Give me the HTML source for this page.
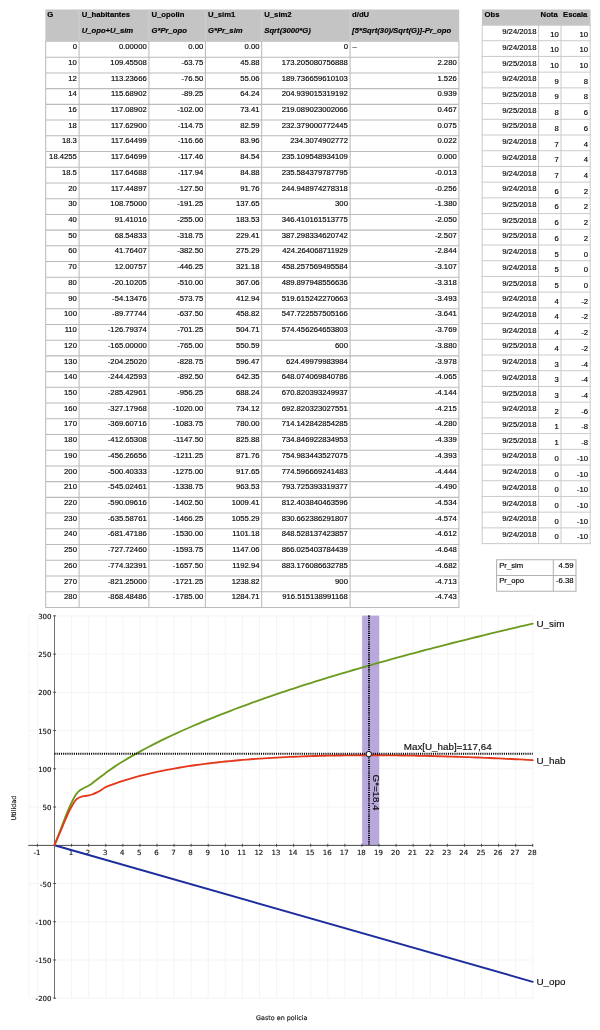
<!DOCTYPE html>
<html><head><meta charset="utf-8"><title>Utilidad</title>
<style>
html,body{margin:0;padding:0;background:#fff;}
body{width:600px;height:1030px;position:relative;overflow:hidden;font-family:"Liberation Sans",sans-serif;font-size:7.7px;color:#000;-webkit-text-stroke:0.15px #000;}
.c{position:absolute;white-space:nowrap;line-height:1;}
.r{text-align:right;}
.b{font-weight:bold;}
.bi{font-weight:bold;font-style:italic;}
.hl{position:absolute;background:#c0c0c0;height:1.2px;}
.vl{position:absolute;background:#c0c0c0;width:1.2px;}
.hd{position:absolute;background:#c4c4c4;}
svg{position:absolute;left:0;top:0;}
svg text{font-family:"Liberation Sans",sans-serif;stroke:#000;stroke-width:0.15px;}
.dv{font-family:"DejaVu Sans",sans-serif;}
</style></head><body>

<svg width="600" height="1030" viewBox="0 0 600 1030"><rect x="45.40" y="9.50" width="413.80" height="31.40" fill="#c4c4c4"/></svg>
<svg width="600" height="1030" viewBox="0 0 600 1030"><path d="M45.20 41.20H459.40M45.20 57.20H459.40M45.20 72.92H459.40M45.20 88.64H459.40M45.20 104.36H459.40M45.20 120.08H459.40M45.20 135.80H459.40M45.20 151.52H459.40M45.20 167.24H459.40M45.20 182.96H459.40M45.20 198.68H459.40M45.20 214.40H459.40M45.20 230.12H459.40M45.20 245.84H459.40M45.20 261.56H459.40M45.20 277.28H459.40M45.20 293.00H459.40M45.20 308.72H459.40M45.20 324.44H459.40M45.20 340.16H459.40M45.20 355.88H459.40M45.20 371.60H459.40M45.20 387.32H459.40M45.20 403.04H459.40M45.20 418.76H459.40M45.20 434.48H459.40M45.20 450.20H459.40M45.20 465.92H459.40M45.20 481.64H459.40M45.20 497.36H459.40M45.20 513.08H459.40M45.20 528.80H459.40M45.20 544.52H459.40M45.20 560.24H459.40M45.20 575.96H459.40M45.20 591.68H459.40M45.20 607.40H459.40M45.70 40.90V607.40M79.10 40.90V607.40M148.90 40.90V607.40M205.40 40.90V607.40M261.70 40.90V607.40M350.10 40.90V607.40M458.90 40.90V607.40" stroke="#bbbbbb" stroke-width="1.05" fill="none"/>
<path d="M79.10 9.50V40.90M148.90 9.50V40.90M205.40 9.50V40.90M261.70 9.50V40.90M350.10 9.50V40.90" stroke="#cecece" stroke-width="1.1" fill="none"/>
</svg>
<div class="c b" style="left:47.30px;top:11.18px">G</div>
<div class="c b" style="left:81.70px;top:11.18px">U_habitantes</div>
<div class="c b" style="left:151.50px;top:11.18px">U_opolin</div>
<div class="c b" style="left:208.00px;top:11.18px">U_sim1</div>
<div class="c b" style="left:264.30px;top:11.18px">U_sim2</div>
<div class="c b" style="left:352.10px;top:11.18px">d/dU</div>
<div class="c bi" style="left:81.70px;top:26.92px">U_opo+U_sim</div>
<div class="c bi" style="left:151.50px;top:26.92px">G*Pr_opo</div>
<div class="c bi" style="left:208.00px;top:26.92px">G*Pr_sim</div>
<div class="c bi" style="left:264.30px;top:26.92px">Sqrt(3000*G)</div>
<div class="c bi" style="left:352.10px;top:26.92px">[5*Sqrt(30)/Sqrt(G)]-Pr_opo</div>
<div class="c r" style="right:523.10px;top:43.11px">0</div>
<div class="c r" style="right:453.30px;top:43.11px">0.00000</div>
<div class="c r" style="right:396.80px;top:43.11px">0.00</div>
<div class="c r" style="right:340.50px;top:43.11px">0.00</div>
<div class="c r" style="right:252.10px;top:43.11px">0</div>
<div class="c" style="left:352.50px;top:43.11px">–</div>
<div class="c r" style="right:523.10px;top:58.83px">10</div>
<div class="c r" style="right:453.30px;top:58.83px">109.45508</div>
<div class="c r" style="right:396.80px;top:58.83px">-63.75</div>
<div class="c r" style="right:340.50px;top:58.83px">45.88</div>
<div class="c r" style="right:252.10px;top:58.83px">173.205080756888</div>
<div class="c r" style="right:143.30px;top:58.83px">2.280</div>
<div class="c r" style="right:523.10px;top:74.55px">12</div>
<div class="c r" style="right:453.30px;top:74.55px">113.23666</div>
<div class="c r" style="right:396.80px;top:74.55px">-76.50</div>
<div class="c r" style="right:340.50px;top:74.55px">55.06</div>
<div class="c r" style="right:252.10px;top:74.55px">189.736659610103</div>
<div class="c r" style="right:143.30px;top:74.55px">1.526</div>
<div class="c r" style="right:523.10px;top:90.27px">14</div>
<div class="c r" style="right:453.30px;top:90.27px">115.68902</div>
<div class="c r" style="right:396.80px;top:90.27px">-89.25</div>
<div class="c r" style="right:340.50px;top:90.27px">64.24</div>
<div class="c r" style="right:252.10px;top:90.27px">204.939015319192</div>
<div class="c r" style="right:143.30px;top:90.27px">0.939</div>
<div class="c r" style="right:523.10px;top:105.99px">16</div>
<div class="c r" style="right:453.30px;top:105.99px">117.08902</div>
<div class="c r" style="right:396.80px;top:105.99px">-102.00</div>
<div class="c r" style="right:340.50px;top:105.99px">73.41</div>
<div class="c r" style="right:252.10px;top:105.99px">219.089023002066</div>
<div class="c r" style="right:143.30px;top:105.99px">0.467</div>
<div class="c r" style="right:523.10px;top:121.71px">18</div>
<div class="c r" style="right:453.30px;top:121.71px">117.62900</div>
<div class="c r" style="right:396.80px;top:121.71px">-114.75</div>
<div class="c r" style="right:340.50px;top:121.71px">82.59</div>
<div class="c r" style="right:252.10px;top:121.71px">232.379000772445</div>
<div class="c r" style="right:143.30px;top:121.71px">0.075</div>
<div class="c r" style="right:523.10px;top:137.43px">18.3</div>
<div class="c r" style="right:453.30px;top:137.43px">117.64499</div>
<div class="c r" style="right:396.80px;top:137.43px">-116.66</div>
<div class="c r" style="right:340.50px;top:137.43px">83.96</div>
<div class="c r" style="right:252.10px;top:137.43px">234.3074902772</div>
<div class="c r" style="right:143.30px;top:137.43px">0.022</div>
<div class="c r" style="right:523.10px;top:153.15px">18.4255</div>
<div class="c r" style="right:453.30px;top:153.15px">117.64699</div>
<div class="c r" style="right:396.80px;top:153.15px">-117.46</div>
<div class="c r" style="right:340.50px;top:153.15px">84.54</div>
<div class="c r" style="right:252.10px;top:153.15px">235.109548934109</div>
<div class="c r" style="right:143.30px;top:153.15px">0.000</div>
<div class="c r" style="right:523.10px;top:168.87px">18.5</div>
<div class="c r" style="right:453.30px;top:168.87px">117.64688</div>
<div class="c r" style="right:396.80px;top:168.87px">-117.94</div>
<div class="c r" style="right:340.50px;top:168.87px">84.88</div>
<div class="c r" style="right:252.10px;top:168.87px">235.584379787795</div>
<div class="c r" style="right:143.30px;top:168.87px">-0.013</div>
<div class="c r" style="right:523.10px;top:184.59px">20</div>
<div class="c r" style="right:453.30px;top:184.59px">117.44897</div>
<div class="c r" style="right:396.80px;top:184.59px">-127.50</div>
<div class="c r" style="right:340.50px;top:184.59px">91.76</div>
<div class="c r" style="right:252.10px;top:184.59px">244.948974278318</div>
<div class="c r" style="right:143.30px;top:184.59px">-0.256</div>
<div class="c r" style="right:523.10px;top:200.31px">30</div>
<div class="c r" style="right:453.30px;top:200.31px">108.75000</div>
<div class="c r" style="right:396.80px;top:200.31px">-191.25</div>
<div class="c r" style="right:340.50px;top:200.31px">137.65</div>
<div class="c r" style="right:252.10px;top:200.31px">300</div>
<div class="c r" style="right:143.30px;top:200.31px">-1.380</div>
<div class="c r" style="right:523.10px;top:216.03px">40</div>
<div class="c r" style="right:453.30px;top:216.03px">91.41016</div>
<div class="c r" style="right:396.80px;top:216.03px">-255.00</div>
<div class="c r" style="right:340.50px;top:216.03px">183.53</div>
<div class="c r" style="right:252.10px;top:216.03px">346.410161513775</div>
<div class="c r" style="right:143.30px;top:216.03px">-2.050</div>
<div class="c r" style="right:523.10px;top:231.75px">50</div>
<div class="c r" style="right:453.30px;top:231.75px">68.54833</div>
<div class="c r" style="right:396.80px;top:231.75px">-318.75</div>
<div class="c r" style="right:340.50px;top:231.75px">229.41</div>
<div class="c r" style="right:252.10px;top:231.75px">387.298334620742</div>
<div class="c r" style="right:143.30px;top:231.75px">-2.507</div>
<div class="c r" style="right:523.10px;top:247.47px">60</div>
<div class="c r" style="right:453.30px;top:247.47px">41.76407</div>
<div class="c r" style="right:396.80px;top:247.47px">-382.50</div>
<div class="c r" style="right:340.50px;top:247.47px">275.29</div>
<div class="c r" style="right:252.10px;top:247.47px">424.264068711929</div>
<div class="c r" style="right:143.30px;top:247.47px">-2.844</div>
<div class="c r" style="right:523.10px;top:263.19px">70</div>
<div class="c r" style="right:453.30px;top:263.19px">12.00757</div>
<div class="c r" style="right:396.80px;top:263.19px">-446.25</div>
<div class="c r" style="right:340.50px;top:263.19px">321.18</div>
<div class="c r" style="right:252.10px;top:263.19px">458.257569495584</div>
<div class="c r" style="right:143.30px;top:263.19px">-3.107</div>
<div class="c r" style="right:523.10px;top:278.91px">80</div>
<div class="c r" style="right:453.30px;top:278.91px">-20.10205</div>
<div class="c r" style="right:396.80px;top:278.91px">-510.00</div>
<div class="c r" style="right:340.50px;top:278.91px">367.06</div>
<div class="c r" style="right:252.10px;top:278.91px">489.897948556636</div>
<div class="c r" style="right:143.30px;top:278.91px">-3.318</div>
<div class="c r" style="right:523.10px;top:294.63px">90</div>
<div class="c r" style="right:453.30px;top:294.63px">-54.13476</div>
<div class="c r" style="right:396.80px;top:294.63px">-573.75</div>
<div class="c r" style="right:340.50px;top:294.63px">412.94</div>
<div class="c r" style="right:252.10px;top:294.63px">519.615242270663</div>
<div class="c r" style="right:143.30px;top:294.63px">-3.493</div>
<div class="c r" style="right:523.10px;top:310.35px">100</div>
<div class="c r" style="right:453.30px;top:310.35px">-89.77744</div>
<div class="c r" style="right:396.80px;top:310.35px">-637.50</div>
<div class="c r" style="right:340.50px;top:310.35px">458.82</div>
<div class="c r" style="right:252.10px;top:310.35px">547.722557505166</div>
<div class="c r" style="right:143.30px;top:310.35px">-3.641</div>
<div class="c r" style="right:523.10px;top:326.07px">110</div>
<div class="c r" style="right:453.30px;top:326.07px">-126.79374</div>
<div class="c r" style="right:396.80px;top:326.07px">-701.25</div>
<div class="c r" style="right:340.50px;top:326.07px">504.71</div>
<div class="c r" style="right:252.10px;top:326.07px">574.456264653803</div>
<div class="c r" style="right:143.30px;top:326.07px">-3.769</div>
<div class="c r" style="right:523.10px;top:341.79px">120</div>
<div class="c r" style="right:453.30px;top:341.79px">-165.00000</div>
<div class="c r" style="right:396.80px;top:341.79px">-765.00</div>
<div class="c r" style="right:340.50px;top:341.79px">550.59</div>
<div class="c r" style="right:252.10px;top:341.79px">600</div>
<div class="c r" style="right:143.30px;top:341.79px">-3.880</div>
<div class="c r" style="right:523.10px;top:357.51px">130</div>
<div class="c r" style="right:453.30px;top:357.51px">-204.25020</div>
<div class="c r" style="right:396.80px;top:357.51px">-828.75</div>
<div class="c r" style="right:340.50px;top:357.51px">596.47</div>
<div class="c r" style="right:252.10px;top:357.51px">624.49979983984</div>
<div class="c r" style="right:143.30px;top:357.51px">-3.978</div>
<div class="c r" style="right:523.10px;top:373.23px">140</div>
<div class="c r" style="right:453.30px;top:373.23px">-244.42593</div>
<div class="c r" style="right:396.80px;top:373.23px">-892.50</div>
<div class="c r" style="right:340.50px;top:373.23px">642.35</div>
<div class="c r" style="right:252.10px;top:373.23px">648.074069840786</div>
<div class="c r" style="right:143.30px;top:373.23px">-4.065</div>
<div class="c r" style="right:523.10px;top:388.95px">150</div>
<div class="c r" style="right:453.30px;top:388.95px">-285.42961</div>
<div class="c r" style="right:396.80px;top:388.95px">-956.25</div>
<div class="c r" style="right:340.50px;top:388.95px">688.24</div>
<div class="c r" style="right:252.10px;top:388.95px">670.820393249937</div>
<div class="c r" style="right:143.30px;top:388.95px">-4.144</div>
<div class="c r" style="right:523.10px;top:404.67px">160</div>
<div class="c r" style="right:453.30px;top:404.67px">-327.17968</div>
<div class="c r" style="right:396.80px;top:404.67px">-1020.00</div>
<div class="c r" style="right:340.50px;top:404.67px">734.12</div>
<div class="c r" style="right:252.10px;top:404.67px">692.820323027551</div>
<div class="c r" style="right:143.30px;top:404.67px">-4.215</div>
<div class="c r" style="right:523.10px;top:420.39px">170</div>
<div class="c r" style="right:453.30px;top:420.39px">-369.60716</div>
<div class="c r" style="right:396.80px;top:420.39px">-1083.75</div>
<div class="c r" style="right:340.50px;top:420.39px">780.00</div>
<div class="c r" style="right:252.10px;top:420.39px">714.142842854285</div>
<div class="c r" style="right:143.30px;top:420.39px">-4.280</div>
<div class="c r" style="right:523.10px;top:436.11px">180</div>
<div class="c r" style="right:453.30px;top:436.11px">-412.65308</div>
<div class="c r" style="right:396.80px;top:436.11px">-1147.50</div>
<div class="c r" style="right:340.50px;top:436.11px">825.88</div>
<div class="c r" style="right:252.10px;top:436.11px">734.846922834953</div>
<div class="c r" style="right:143.30px;top:436.11px">-4.339</div>
<div class="c r" style="right:523.10px;top:451.83px">190</div>
<div class="c r" style="right:453.30px;top:451.83px">-456.26656</div>
<div class="c r" style="right:396.80px;top:451.83px">-1211.25</div>
<div class="c r" style="right:340.50px;top:451.83px">871.76</div>
<div class="c r" style="right:252.10px;top:451.83px">754.983443527075</div>
<div class="c r" style="right:143.30px;top:451.83px">-4.393</div>
<div class="c r" style="right:523.10px;top:467.55px">200</div>
<div class="c r" style="right:453.30px;top:467.55px">-500.40333</div>
<div class="c r" style="right:396.80px;top:467.55px">-1275.00</div>
<div class="c r" style="right:340.50px;top:467.55px">917.65</div>
<div class="c r" style="right:252.10px;top:467.55px">774.596669241483</div>
<div class="c r" style="right:143.30px;top:467.55px">-4.444</div>
<div class="c r" style="right:523.10px;top:483.27px">210</div>
<div class="c r" style="right:453.30px;top:483.27px">-545.02461</div>
<div class="c r" style="right:396.80px;top:483.27px">-1338.75</div>
<div class="c r" style="right:340.50px;top:483.27px">963.53</div>
<div class="c r" style="right:252.10px;top:483.27px">793.725393319377</div>
<div class="c r" style="right:143.30px;top:483.27px">-4.490</div>
<div class="c r" style="right:523.10px;top:498.99px">220</div>
<div class="c r" style="right:453.30px;top:498.99px">-590.09616</div>
<div class="c r" style="right:396.80px;top:498.99px">-1402.50</div>
<div class="c r" style="right:340.50px;top:498.99px">1009.41</div>
<div class="c r" style="right:252.10px;top:498.99px">812.403840463596</div>
<div class="c r" style="right:143.30px;top:498.99px">-4.534</div>
<div class="c r" style="right:523.10px;top:514.71px">230</div>
<div class="c r" style="right:453.30px;top:514.71px">-635.58761</div>
<div class="c r" style="right:396.80px;top:514.71px">-1466.25</div>
<div class="c r" style="right:340.50px;top:514.71px">1055.29</div>
<div class="c r" style="right:252.10px;top:514.71px">830.662386291807</div>
<div class="c r" style="right:143.30px;top:514.71px">-4.574</div>
<div class="c r" style="right:523.10px;top:530.43px">240</div>
<div class="c r" style="right:453.30px;top:530.43px">-681.47186</div>
<div class="c r" style="right:396.80px;top:530.43px">-1530.00</div>
<div class="c r" style="right:340.50px;top:530.43px">1101.18</div>
<div class="c r" style="right:252.10px;top:530.43px">848.528137423857</div>
<div class="c r" style="right:143.30px;top:530.43px">-4.612</div>
<div class="c r" style="right:523.10px;top:546.15px">250</div>
<div class="c r" style="right:453.30px;top:546.15px">-727.72460</div>
<div class="c r" style="right:396.80px;top:546.15px">-1593.75</div>
<div class="c r" style="right:340.50px;top:546.15px">1147.06</div>
<div class="c r" style="right:252.10px;top:546.15px">866.025403784439</div>
<div class="c r" style="right:143.30px;top:546.15px">-4.648</div>
<div class="c r" style="right:523.10px;top:561.87px">260</div>
<div class="c r" style="right:453.30px;top:561.87px">-774.32391</div>
<div class="c r" style="right:396.80px;top:561.87px">-1657.50</div>
<div class="c r" style="right:340.50px;top:561.87px">1192.94</div>
<div class="c r" style="right:252.10px;top:561.87px">883.176086632785</div>
<div class="c r" style="right:143.30px;top:561.87px">-4.682</div>
<div class="c r" style="right:523.10px;top:577.59px">270</div>
<div class="c r" style="right:453.30px;top:577.59px">-821.25000</div>
<div class="c r" style="right:396.80px;top:577.59px">-1721.25</div>
<div class="c r" style="right:340.50px;top:577.59px">1238.82</div>
<div class="c r" style="right:252.10px;top:577.59px">900</div>
<div class="c r" style="right:143.30px;top:577.59px">-4.713</div>
<div class="c r" style="right:523.10px;top:593.31px">280</div>
<div class="c r" style="right:453.30px;top:593.31px">-868.48486</div>
<div class="c r" style="right:396.80px;top:593.31px">-1785.00</div>
<div class="c r" style="right:340.50px;top:593.31px">1284.71</div>
<div class="c r" style="right:252.10px;top:593.31px">916.515138991168</div>
<div class="c r" style="right:143.30px;top:593.31px">-4.743</div>
<svg width="600" height="1030" viewBox="0 0 600 1030"><rect x="481.90" y="9.50" width="108.60" height="15.50" fill="#c4c4c4"/></svg>
<svg width="600" height="1030" viewBox="0 0 600 1030"><path d="M481.70 25.30H590.70M481.70 40.72H590.70M481.70 56.43H590.70M481.70 72.14H590.70M481.70 87.86H590.70M481.70 103.58H590.70M481.70 119.29H590.70M481.70 135.00H590.70M481.70 150.72H590.70M481.70 166.44H590.70M481.70 182.15H590.70M481.70 197.87H590.70M481.70 213.58H590.70M481.70 229.29H590.70M481.70 245.01H590.70M481.70 260.73H590.70M481.70 276.44H590.70M481.70 292.15H590.70M481.70 307.87H590.70M481.70 323.58H590.70M481.70 339.30H590.70M481.70 355.01H590.70M481.70 370.73H590.70M481.70 386.44H590.70M481.70 402.16H590.70M481.70 417.88H590.70M481.70 433.59H590.70M481.70 449.31H590.70M481.70 465.02H590.70M481.70 480.74H590.70M481.70 496.45H590.70M481.70 512.16H590.70M481.70 527.88H590.70M481.70 543.60H590.70M482.20 25.00V543.60M538.60 25.00V543.60M561.00 25.00V543.60M590.20 25.00V543.60" stroke="#cbcbcb" stroke-width="1.0" fill="none"/>
</svg>
<div class="c b" style="left:484.60px;top:11.08px">Obs</div>
<div class="c b" style="left:540.60px;top:11.08px">Nota</div>
<div class="c b" style="left:563.00px;top:11.08px">Escala</div>
<div class="c r" style="right:63.60px;top:28.18px">9/24/2018</div>
<div class="c r" style="right:41.20px;top:30.58px">10</div>
<div class="c r" style="right:12.00px;top:30.58px">10</div>
<div class="c r" style="right:63.60px;top:43.89px">9/24/2018</div>
<div class="c r" style="right:41.20px;top:46.29px">10</div>
<div class="c r" style="right:12.00px;top:46.29px">10</div>
<div class="c r" style="right:63.60px;top:59.61px">9/25/2018</div>
<div class="c r" style="right:41.20px;top:62.01px">10</div>
<div class="c r" style="right:12.00px;top:62.01px">10</div>
<div class="c r" style="right:63.60px;top:75.32px">9/24/2018</div>
<div class="c r" style="right:41.20px;top:77.72px">9</div>
<div class="c r" style="right:12.00px;top:77.72px">8</div>
<div class="c r" style="right:63.60px;top:91.04px">9/25/2018</div>
<div class="c r" style="right:41.20px;top:93.44px">9</div>
<div class="c r" style="right:12.00px;top:93.44px">8</div>
<div class="c r" style="right:63.60px;top:106.75px">9/25/2018</div>
<div class="c r" style="right:41.20px;top:109.15px">8</div>
<div class="c r" style="right:12.00px;top:109.15px">6</div>
<div class="c r" style="right:63.60px;top:122.47px">9/25/2018</div>
<div class="c r" style="right:41.20px;top:124.87px">8</div>
<div class="c r" style="right:12.00px;top:124.87px">6</div>
<div class="c r" style="right:63.60px;top:138.18px">9/24/2018</div>
<div class="c r" style="right:41.20px;top:140.58px">7</div>
<div class="c r" style="right:12.00px;top:140.58px">4</div>
<div class="c r" style="right:63.60px;top:153.90px">9/24/2018</div>
<div class="c r" style="right:41.20px;top:156.30px">7</div>
<div class="c r" style="right:12.00px;top:156.30px">4</div>
<div class="c r" style="right:63.60px;top:169.61px">9/24/2018</div>
<div class="c r" style="right:41.20px;top:172.01px">7</div>
<div class="c r" style="right:12.00px;top:172.01px">4</div>
<div class="c r" style="right:63.60px;top:185.33px">9/24/2018</div>
<div class="c r" style="right:41.20px;top:187.73px">6</div>
<div class="c r" style="right:12.00px;top:187.73px">2</div>
<div class="c r" style="right:63.60px;top:201.04px">9/25/2018</div>
<div class="c r" style="right:41.20px;top:203.44px">6</div>
<div class="c r" style="right:12.00px;top:203.44px">2</div>
<div class="c r" style="right:63.60px;top:216.76px">9/25/2018</div>
<div class="c r" style="right:41.20px;top:219.16px">6</div>
<div class="c r" style="right:12.00px;top:219.16px">2</div>
<div class="c r" style="right:63.60px;top:232.47px">9/25/2018</div>
<div class="c r" style="right:41.20px;top:234.87px">6</div>
<div class="c r" style="right:12.00px;top:234.87px">2</div>
<div class="c r" style="right:63.60px;top:248.19px">9/24/2018</div>
<div class="c r" style="right:41.20px;top:250.59px">5</div>
<div class="c r" style="right:12.00px;top:250.59px">0</div>
<div class="c r" style="right:63.60px;top:263.90px">9/24/2018</div>
<div class="c r" style="right:41.20px;top:266.30px">5</div>
<div class="c r" style="right:12.00px;top:266.30px">0</div>
<div class="c r" style="right:63.60px;top:279.62px">9/25/2018</div>
<div class="c r" style="right:41.20px;top:282.02px">5</div>
<div class="c r" style="right:12.00px;top:282.02px">0</div>
<div class="c r" style="right:63.60px;top:295.33px">9/24/2018</div>
<div class="c r" style="right:41.20px;top:297.73px">4</div>
<div class="c r" style="right:12.00px;top:297.73px">-2</div>
<div class="c r" style="right:63.60px;top:311.05px">9/24/2018</div>
<div class="c r" style="right:41.20px;top:313.45px">4</div>
<div class="c r" style="right:12.00px;top:313.45px">-2</div>
<div class="c r" style="right:63.60px;top:326.76px">9/24/2018</div>
<div class="c r" style="right:41.20px;top:329.16px">4</div>
<div class="c r" style="right:12.00px;top:329.16px">-2</div>
<div class="c r" style="right:63.60px;top:342.48px">9/25/2018</div>
<div class="c r" style="right:41.20px;top:344.88px">4</div>
<div class="c r" style="right:12.00px;top:344.88px">-2</div>
<div class="c r" style="right:63.60px;top:358.19px">9/24/2018</div>
<div class="c r" style="right:41.20px;top:360.59px">3</div>
<div class="c r" style="right:12.00px;top:360.59px">-4</div>
<div class="c r" style="right:63.60px;top:373.91px">9/24/2018</div>
<div class="c r" style="right:41.20px;top:376.31px">3</div>
<div class="c r" style="right:12.00px;top:376.31px">-4</div>
<div class="c r" style="right:63.60px;top:389.62px">9/25/2018</div>
<div class="c r" style="right:41.20px;top:392.02px">3</div>
<div class="c r" style="right:12.00px;top:392.02px">-4</div>
<div class="c r" style="right:63.60px;top:405.34px">9/24/2018</div>
<div class="c r" style="right:41.20px;top:407.74px">2</div>
<div class="c r" style="right:12.00px;top:407.74px">-6</div>
<div class="c r" style="right:63.60px;top:421.05px">9/25/2018</div>
<div class="c r" style="right:41.20px;top:423.45px">1</div>
<div class="c r" style="right:12.00px;top:423.45px">-8</div>
<div class="c r" style="right:63.60px;top:436.77px">9/25/2018</div>
<div class="c r" style="right:41.20px;top:439.17px">1</div>
<div class="c r" style="right:12.00px;top:439.17px">-8</div>
<div class="c r" style="right:63.60px;top:452.48px">9/24/2018</div>
<div class="c r" style="right:41.20px;top:454.88px">0</div>
<div class="c r" style="right:12.00px;top:454.88px">-10</div>
<div class="c r" style="right:63.60px;top:468.20px">9/24/2018</div>
<div class="c r" style="right:41.20px;top:470.60px">0</div>
<div class="c r" style="right:12.00px;top:470.60px">-10</div>
<div class="c r" style="right:63.60px;top:483.91px">9/24/2018</div>
<div class="c r" style="right:41.20px;top:486.31px">0</div>
<div class="c r" style="right:12.00px;top:486.31px">-10</div>
<div class="c r" style="right:63.60px;top:499.63px">9/24/2018</div>
<div class="c r" style="right:41.20px;top:502.03px">0</div>
<div class="c r" style="right:12.00px;top:502.03px">-10</div>
<div class="c r" style="right:63.60px;top:515.34px">9/24/2018</div>
<div class="c r" style="right:41.20px;top:517.74px">0</div>
<div class="c r" style="right:12.00px;top:517.74px">-10</div>
<div class="c r" style="right:63.60px;top:531.06px">9/24/2018</div>
<div class="c r" style="right:41.20px;top:533.46px">0</div>
<div class="c r" style="right:12.00px;top:533.46px">-10</div>
<svg width="600" height="1030" viewBox="0 0 600 1030"><path d="M496.10 559.70H576.50M496.10 575.44H576.50M496.10 591.18H576.50M496.60 559.70V591.18M553.30 559.70V591.18M576.00 559.70V591.18" stroke="#b2b2b2" stroke-width="1.05" fill="none"/></svg>
<div class="c" style="left:499.20px;top:561.68px">Pr_sim</div>
<div class="c r" style="right:26.50px;top:561.68px">4.59</div>
<div class="c" style="left:499.20px;top:577.42px">Pr_opo</div>
<div class="c r" style="right:26.50px;top:577.42px">-6.38</div>
<svg width="600" height="1030" viewBox="0 0 600 1030">
<path d="M28.88 615.81V998.21M37.42 615.81V998.21M71.58 615.81V998.21M88.66 615.81V998.21M105.74 615.81V998.21M122.82 615.81V998.21M139.90 615.81V998.21M156.98 615.81V998.21M174.06 615.81V998.21M191.14 615.81V998.21M208.22 615.81V998.21M225.30 615.81V998.21M242.38 615.81V998.21M259.46 615.81V998.21M276.54 615.81V998.21M293.62 615.81V998.21M310.70 615.81V998.21M327.78 615.81V998.21M344.86 615.81V998.21M361.94 615.81V998.21M379.02 615.81V998.21M396.10 615.81V998.21M413.18 615.81V998.21M430.26 615.81V998.21M447.34 615.81V998.21M464.42 615.81V998.21M481.50 615.81V998.21M498.58 615.81V998.21M515.66 615.81V998.21M532.74 615.81V998.21M28.88 998.21H532.74M28.88 959.97H532.74M28.88 921.73H532.74M28.88 883.49H532.74M28.88 807.01H532.74M28.88 768.77H532.74M28.88 730.53H532.74M28.88 692.29H532.74M28.88 654.05H532.74M28.88 615.81H532.74" stroke="#f1f1f1" stroke-width="0.8" fill="none"/>
<rect x="362.14" y="615.60" width="17.08" height="229.65" fill="#b9a8dc"/>
<path d="M54.50 615.81V998.21" stroke="#4a4a4a" stroke-width="0.8" fill="none"/>
<path d="M28.38 845.40H532.74" stroke="#333" stroke-width="0.9" fill="none"/>
<path d="M37.42 843.75v3M71.58 843.75v3M88.66 843.75v3M105.74 843.75v3M122.82 843.75v3M139.90 843.75v3M156.98 843.75v3M174.06 843.75v3M191.14 843.75v3M208.22 843.75v3M225.30 843.75v3M242.38 843.75v3M259.46 843.75v3M276.54 843.75v3M293.62 843.75v3M310.70 843.75v3M327.78 843.75v3M344.86 843.75v3M361.94 843.75v3M379.02 843.75v3M396.10 843.75v3M413.18 843.75v3M430.26 843.75v3M447.34 843.75v3M464.42 843.75v3M481.50 843.75v3M498.58 843.75v3M515.66 843.75v3M532.74 843.75v3M53.20 998.21h2.8M53.20 959.97h2.8M53.20 921.73h2.8M53.20 883.49h2.8M53.20 807.01h2.8M53.20 768.77h2.8M53.20 730.53h2.8M53.20 692.29h2.8M53.20 654.05h2.8M53.20 615.81h2.8" stroke="#3a3a3a" stroke-width="0.85" fill="none"/>
<text class="dv" x="36.92" y="855.05" font-size="7" text-anchor="middle" fill="#222">-1</text>
<text class="dv" x="70.98" y="855.05" font-size="7" text-anchor="middle" fill="#222">1</text>
<text class="dv" x="88.06" y="855.05" font-size="7" text-anchor="middle" fill="#222">2</text>
<text class="dv" x="105.14" y="855.05" font-size="7" text-anchor="middle" fill="#222">3</text>
<text class="dv" x="122.22" y="855.05" font-size="7" text-anchor="middle" fill="#222">4</text>
<text class="dv" x="139.30" y="855.05" font-size="7" text-anchor="middle" fill="#222">5</text>
<text class="dv" x="156.38" y="855.05" font-size="7" text-anchor="middle" fill="#222">6</text>
<text class="dv" x="173.46" y="855.05" font-size="7" text-anchor="middle" fill="#222">7</text>
<text class="dv" x="190.54" y="855.05" font-size="7" text-anchor="middle" fill="#222">8</text>
<text class="dv" x="207.62" y="855.05" font-size="7" text-anchor="middle" fill="#222">9</text>
<text class="dv" x="224.70" y="855.05" font-size="7" text-anchor="middle" fill="#222">10</text>
<text class="dv" x="241.78" y="855.05" font-size="7" text-anchor="middle" fill="#222">11</text>
<text class="dv" x="258.86" y="855.05" font-size="7" text-anchor="middle" fill="#222">12</text>
<text class="dv" x="275.94" y="855.05" font-size="7" text-anchor="middle" fill="#222">13</text>
<text class="dv" x="293.02" y="855.05" font-size="7" text-anchor="middle" fill="#222">14</text>
<text class="dv" x="310.10" y="855.05" font-size="7" text-anchor="middle" fill="#222">15</text>
<text class="dv" x="327.18" y="855.05" font-size="7" text-anchor="middle" fill="#222">16</text>
<text class="dv" x="344.26" y="855.05" font-size="7" text-anchor="middle" fill="#222">17</text>
<text class="dv" x="361.34" y="855.05" font-size="7" text-anchor="middle" fill="#222">18</text>
<text class="dv" x="378.42" y="855.05" font-size="7" text-anchor="middle" fill="#222">19</text>
<text class="dv" x="395.50" y="855.05" font-size="7" text-anchor="middle" fill="#222">20</text>
<text class="dv" x="412.58" y="855.05" font-size="7" text-anchor="middle" fill="#222">21</text>
<text class="dv" x="429.66" y="855.05" font-size="7" text-anchor="middle" fill="#222">22</text>
<text class="dv" x="446.74" y="855.05" font-size="7" text-anchor="middle" fill="#222">23</text>
<text class="dv" x="463.82" y="855.05" font-size="7" text-anchor="middle" fill="#222">24</text>
<text class="dv" x="480.90" y="855.05" font-size="7" text-anchor="middle" fill="#222">25</text>
<text class="dv" x="497.98" y="855.05" font-size="7" text-anchor="middle" fill="#222">26</text>
<text class="dv" x="515.06" y="855.05" font-size="7" text-anchor="middle" fill="#222">27</text>
<text class="dv" x="532.14" y="855.05" font-size="7" text-anchor="middle" fill="#222">28</text>
<text class="dv" x="51.50" y="1001.41" font-size="7" text-anchor="end" fill="#222">-200</text>
<text class="dv" x="51.50" y="963.17" font-size="7" text-anchor="end" fill="#222">-150</text>
<text class="dv" x="51.50" y="924.93" font-size="7" text-anchor="end" fill="#222">-100</text>
<text class="dv" x="51.50" y="886.69" font-size="7" text-anchor="end" fill="#222">-50</text>
<text class="dv" x="51.50" y="810.21" font-size="7" text-anchor="end" fill="#222">50</text>
<text class="dv" x="51.50" y="771.97" font-size="7" text-anchor="end" fill="#222">100</text>
<text class="dv" x="51.50" y="733.73" font-size="7" text-anchor="end" fill="#222">150</text>
<text class="dv" x="51.50" y="695.49" font-size="7" text-anchor="end" fill="#222">200</text>
<text class="dv" x="51.50" y="657.25" font-size="7" text-anchor="end" fill="#222">250</text>
<text class="dv" x="51.50" y="619.01" font-size="7" text-anchor="end" fill="#222">300</text>
<path d="M54.50 845.25L532.74 981.77" stroke="#1c2d9c" stroke-width="1.85" fill="none" stroke-linecap="round"/>
<path d="M54.50 845.20C55.42 842.83 58.25 835.53 60.00 831.00C61.75 826.47 63.33 822.17 65.00 818.00C66.67 813.83 68.33 809.67 70.00 806.00C71.67 802.33 73.67 798.33 75.00 796.00C76.33 793.67 77.17 792.95 78.00 792.00C78.83 791.05 79.00 790.97 80.00 790.30C81.00 789.63 82.58 788.75 84.00 788.00C85.42 787.25 87.17 786.55 88.50 785.80C89.83 785.05 90.58 784.55 92.00 783.50C93.42 782.45 95.33 780.80 97.00 779.50C98.67 778.20 100.55 776.78 102.00 775.70C103.45 774.62 103.65 774.47 105.70 773.00C107.75 771.53 111.43 768.80 114.28 766.88C117.13 764.96 119.97 763.22 122.82 761.47C125.67 759.72 128.51 758.04 131.36 756.39C134.21 754.74 137.05 753.14 139.90 751.58C142.75 750.02 145.59 748.50 148.44 747.01C151.29 745.52 154.13 744.07 156.98 742.64C159.83 741.21 162.67 739.82 165.52 738.45C168.37 737.08 171.21 735.74 174.06 734.42C176.91 733.10 179.75 731.81 182.60 730.53C185.45 729.25 188.29 728.00 191.14 726.77C193.99 725.53 196.83 724.32 199.68 723.12C202.53 721.92 205.37 720.74 208.22 719.58C211.07 718.42 213.91 717.27 216.76 716.14C219.61 715.00 222.45 713.89 225.30 712.78C228.15 711.68 230.99 710.59 233.84 709.51C236.69 708.43 239.53 707.37 242.38 706.32C245.23 705.26 248.07 704.22 250.92 703.19C253.77 702.17 256.61 701.15 259.46 700.14C262.31 699.13 265.15 698.13 268.00 697.15C270.85 696.16 273.69 695.18 276.54 694.21C279.39 693.25 282.23 692.29 285.08 691.34C287.93 690.39 290.77 689.45 293.62 688.51C296.47 687.58 299.31 686.66 302.16 685.74C305.01 684.82 307.85 683.91 310.70 683.01C313.55 682.11 316.39 681.22 319.24 680.33C322.09 679.44 324.93 678.56 327.78 677.69C330.63 676.82 333.47 675.95 336.32 675.09C339.17 674.23 342.01 673.38 344.86 672.53C347.71 671.69 350.55 670.85 353.40 670.01C356.25 669.18 359.09 668.35 361.94 667.53C364.79 666.70 367.63 665.89 370.48 665.08C373.33 664.26 376.17 663.46 379.02 662.66C381.87 661.86 384.71 661.06 387.56 660.27C390.41 659.48 393.25 658.69 396.10 657.91C398.95 657.13 401.79 656.36 404.64 655.59C407.49 654.81 410.33 654.05 413.18 653.29C416.03 652.52 418.87 651.77 421.72 651.01C424.57 650.26 427.41 649.51 430.26 648.77C433.11 648.03 435.95 647.29 438.80 646.55C441.65 645.81 444.49 645.08 447.34 644.35C450.19 643.63 453.03 642.90 455.88 642.18C458.73 641.46 461.57 640.75 464.42 640.03C467.27 639.32 470.11 638.61 472.96 637.91C475.81 637.20 478.65 636.50 481.50 635.80C484.35 635.10 487.19 634.41 490.04 633.72C492.89 633.03 495.73 632.34 498.58 631.65C501.43 630.97 504.27 630.29 507.12 629.61C509.97 628.93 512.81 628.26 515.66 627.58C518.51 626.91 521.35 626.24 524.20 625.58C527.05 624.91 531.32 623.92 532.74 623.59" stroke="#6b9b1e" stroke-width="1.85" fill="none" stroke-linecap="round"/>
<path d="M54.50 845.20C55.42 843.08 58.25 836.62 60.00 832.50C61.75 828.38 63.33 824.33 65.00 820.50C66.67 816.67 68.33 812.75 70.00 809.50C71.67 806.25 73.67 802.88 75.00 801.00C76.33 799.12 77.00 798.90 78.00 798.20C79.00 797.50 79.83 797.17 81.00 796.80C82.17 796.43 83.75 796.23 85.00 796.00C86.25 795.77 87.33 795.65 88.50 795.40C89.67 795.15 90.58 795.00 92.00 794.50C93.42 794.00 95.33 793.23 97.00 792.40C98.67 791.57 100.55 790.38 102.00 789.50C103.45 788.62 103.65 788.08 105.70 787.15C107.75 786.22 111.43 784.98 114.28 783.95C117.13 782.92 119.97 781.91 122.82 780.97C125.67 780.04 128.51 779.16 131.36 778.33C134.21 777.49 137.05 776.71 139.90 775.96C142.75 775.21 145.59 774.50 148.44 773.83C151.29 773.15 154.13 772.51 156.98 771.89C159.83 771.28 162.67 770.70 165.52 770.14C168.37 769.59 171.21 769.06 174.06 768.55C176.91 768.04 179.75 767.56 182.60 767.10C185.45 766.63 188.29 766.19 191.14 765.77C193.99 765.35 196.83 764.95 199.68 764.56C202.53 764.18 205.37 763.81 208.22 763.46C211.07 763.11 213.91 762.78 216.76 762.46C219.61 762.13 222.45 761.83 225.30 761.54C228.15 761.25 230.99 760.97 233.84 760.71C236.69 760.44 239.53 760.19 242.38 759.95C245.23 759.71 248.07 759.48 250.92 759.26C253.77 759.05 256.61 758.84 259.46 758.65C262.31 758.45 265.15 758.27 268.00 758.09C270.85 757.92 273.69 757.75 276.54 757.60C279.39 757.44 282.23 757.30 285.08 757.16C287.93 757.02 290.77 756.89 293.62 756.77C296.47 756.65 299.31 756.54 302.16 756.43C305.01 756.33 307.85 756.23 310.70 756.15C313.55 756.06 316.39 755.98 319.24 755.90C322.09 755.83 324.93 755.76 327.78 755.70C330.63 755.64 333.47 755.59 336.32 755.54C339.17 755.49 342.01 755.45 344.86 755.42C347.71 755.38 350.55 755.36 353.40 755.34C356.25 755.31 359.09 755.30 361.94 755.29C364.79 755.28 367.63 755.27 370.48 755.27C373.33 755.27 376.17 755.28 379.02 755.29C381.87 755.30 384.71 755.32 387.56 755.34C390.41 755.37 393.25 755.39 396.10 755.43C398.95 755.46 401.79 755.49 404.64 755.54C407.49 755.58 410.33 755.62 413.18 755.67C416.03 755.73 418.87 755.78 421.72 755.84C424.57 755.90 427.41 755.96 430.26 756.03C433.11 756.10 435.95 756.17 438.80 756.25C441.65 756.33 444.49 756.41 447.34 756.49C450.19 756.58 453.03 756.67 455.88 756.76C458.73 756.85 461.57 756.95 464.42 757.05C467.27 757.15 470.11 757.25 472.96 757.36C475.81 757.47 478.65 757.58 481.50 757.69C484.35 757.81 487.19 757.92 490.04 758.04C492.89 758.17 495.73 758.29 498.58 758.42C501.43 758.55 504.27 758.68 507.12 758.81C509.97 758.95 512.81 759.08 515.66 759.23C518.51 759.37 521.35 759.51 524.20 759.66C527.05 759.80 531.32 760.03 532.74 760.11" stroke="#e5371a" stroke-width="1.85" fill="none" stroke-linecap="round"/>
<path d="M54.50 753.7H532.74" stroke="#000" stroke-width="2" stroke-dasharray="1.1 1.05" fill="none"/>
<path d="M369.0 615.6V845.25" stroke="#000" stroke-width="2" stroke-dasharray="1.1 1.05" fill="none"/>
<circle cx="368.8" cy="754.1" r="2.7" fill="#fff" stroke="#111" stroke-width="1"/>
<text x="536.4" y="626.96" font-size="9.9" fill="#111">U_sim</text>
<text x="536.4" y="763.86" font-size="9.9" fill="#111">U_hab</text>
<text x="536.4" y="985.27" font-size="9.9" fill="#111">U_opo</text>
<text x="403.8" y="750" font-size="9.8" fill="#111">Max[U_hab]=117,64</text>
<text transform="translate(373.3 774.6) rotate(90)" font-size="9.7" fill="#111">G*=18,4</text>
<text class="dv" transform="translate(15.6 808) rotate(-90)" font-size="6.5" text-anchor="middle" fill="#222">Utilidad</text>
<text class="dv" x="281.8" y="1019.8" font-size="6.4" text-anchor="middle" fill="#222">Gasto en policia</text>
</svg>
</body></html>
